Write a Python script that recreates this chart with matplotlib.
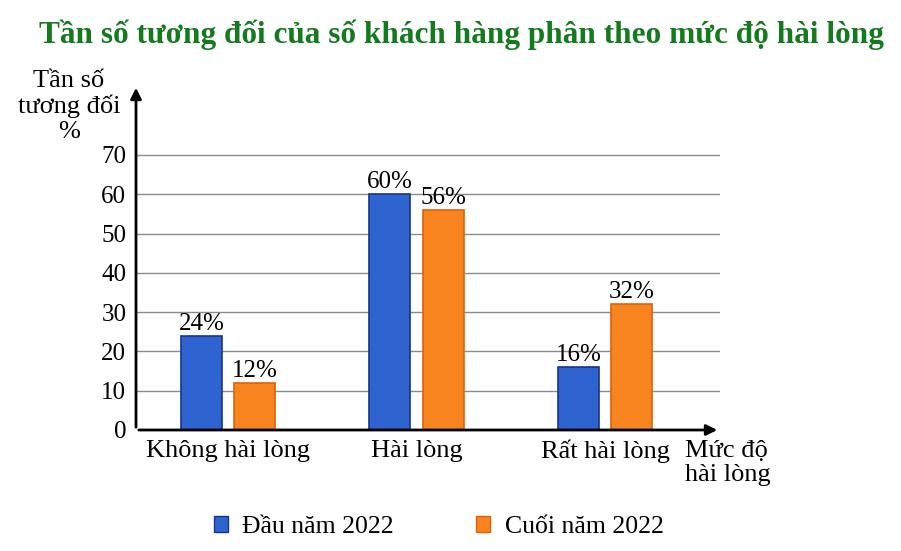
import numpy as np
import matplotlib.pyplot as plt
from matplotlib.patches import Rectangle

plt.rcParams['font.family'] = ['Liberation Serif', 'DejaVu Serif']

categories = ['Không hài lòng', 'Hài lòng', 'Rất hài lòng']
dau_nam = [24, 60, 16]
cuoi_nam = [12, 56, 32]
series_names = ['Đầu năm 2022', 'Cuối năm 2022']
yticks = [0, 10, 20, 30, 40, 50, 60, 70]

blue = '#2f63d0'
blue_edge = '#17358a'
orange = '#f7841f'
orange_edge = '#e0600c'

fig = plt.figure(figsize=(9.01, 5.51), dpi=100)
ax = fig.add_axes([136/901, (551-430)/551, (720-136)/901, (430-85)/551])

x = np.arange(len(categories))
w = 0.2175
off = 0.1406
b1 = ax.bar(x - off, dau_nam, w, color=blue, edgecolor=blue_edge, linewidth=1.2, zorder=3)
b2 = ax.bar(x + off, cuoi_nam, w, color=orange, edgecolor=orange_edge, linewidth=1.2, zorder=3)

for rects, vals in [(b1, dau_nam), (b2, cuoi_nam)]:
    for r, v in zip(rects, vals):
        ax.text(r.get_x() + r.get_width()/2, v + 0.2, '%d%%' % v,
                ha='center', va='bottom', fontsize=18)

ax.set_xlim(-0.488, 2.61)
ax.set_ylim(0, 87.8)

for t in yticks[1:]:
    ax.axhline(t, color='#8a8a8a', lw=1, zorder=1)

for s in ax.spines.values():
    s.set_visible(False)
ax.set_yticks(yticks)
ax.set_yticklabels([str(t) for t in yticks], fontsize=18)
ax.tick_params(axis='y', length=0, pad=7)
ax.set_xticks(x)
ax.set_xticklabels(categories, fontsize=19)
ax.tick_params(axis='x', length=0, pad=7)

# arrows for axes
ax.annotate('', xy=(0, 1.0), xytext=(0, 0), xycoords='axes fraction',
            arrowprops=dict(arrowstyle='-|>', color='black', lw=2, mutation_scale=16))
ax.annotate('', xy=(1.0, 0), xytext=(0, 0), xycoords='axes fraction',
            arrowprops=dict(arrowstyle='-|>', color='black', lw=2, mutation_scale=16))

fig.text(69/901, 1 - 70/551, 'Tần số\ntương đối\n%', ha='center', va='top',
         fontsize=19, linespacing=1.15)
fig.text(685/901, 1 - 440/551, 'Mức độ\nhài lòng', ha='left', va='top',
         fontsize=19, linespacing=1.1)

fig.suptitle('Tần số tương đối của số khách hàng phân theo mức độ hài lòng',
             x=0.512, y=1 - 20/551, va='top', fontsize=22.5, fontweight='bold',
             color='#137a1e')

handles = [Rectangle((0, 0), 1, 1, facecolor=blue, edgecolor=blue_edge),
           Rectangle((0, 0), 1, 1, facecolor=orange, edgecolor=orange_edge)]
fig.legend(handles, series_names, loc='center', bbox_to_anchor=(0.487, 1 - 527/551),
           ncol=2, frameon=False, fontsize=18.5, handlelength=0.55, handleheight=0.55,
           columnspacing=3.2, handletextpad=0.55)

fig.savefig('out.png', dpi=100)
